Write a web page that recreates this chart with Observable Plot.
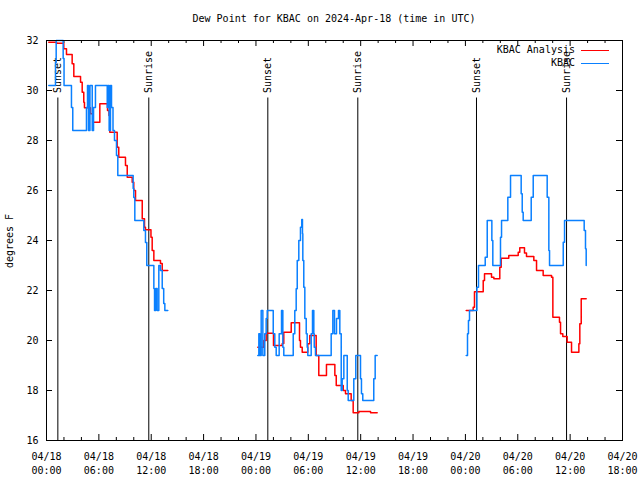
<!DOCTYPE html>
<html>
<head>
<meta charset="utf-8">
<script src="https://cdn.jsdelivr.net/npm/d3@7"></script>
<script src="https://cdn.jsdelivr.net/npm/@observablehq/plot@0.6"></script>
<style>
  body { margin: 0; background: #fff; }
  #wrap { position: relative; width: 640px; height: 480px; font-family: "DejaVu Sans Mono", monospace; font-size: 10px; color: #000; background: #fff; }
  #title { height: 30px; box-sizing: border-box; padding-top: 13px; padding-left: 28px; text-align: center; line-height: 12px; white-space: pre; }
  .abs { position: absolute; line-height: 12px; white-space: pre; }
  .swatch { position: absolute; height: 1.5px; width: 28px; }
</style>
</head>
<body>
<div id="wrap">
  <div id="title">Dew Point for KBAC on 2024-Apr-18 (time in UTC)</div>
  <div id="chart"></div>
  <div class="abs" id="ylab" style="left:-30px; top:235px; width:80px; text-align:center; transform:rotate(-90deg);">degrees F</div>
  <div class="abs" id="leg1" style="right:65px; top:44px; text-align:right;"></div>
  <div class="swatch" id="sw1" style="left:581px; top:49.5px;"></div>
  <div class="abs" id="leg2" style="right:65px; top:57px; text-align:right;"></div>
  <div class="swatch" id="sw2" style="left:581px; top:62.5px;"></div>
</div>
<script>
// Hours after 2024-04-18 00:00 UTC, dew point in °F
const seriesNames = ["KBAC Analysis", "KBAC"];
const seriesColors = ["#ff0000", "#0a80ff"];

const analysisSeg1 = [[0.26,31.93],[1.15,31.89],[1.98,31.67],[2.29,31.44],[2.94,31.07],[3.13,30.56],[3.90,30.33],[4.09,29.93],[4.27,29.53],[4.35,29.31],[5.04,29.07],[5.35,28.73],[6.11,29.47],[6.99,29.2],[7.16,29.0],[7.25,28.33],[8.10,27.73],[8.28,27.33],[9.05,27.0],[9.25,26.53],[9.82,26.33],[10.0,26.0],[10.2,25.6],[10.97,24.87],[11.23,24.53],[11.34,24.43],[11.97,24.13],[12.11,23.6],[12.30,23.2],[13.06,23.08],[13.26,22.8],[13.90,22.8]];
const analysisSeg2 = [[24.21,19.73],[24.90,20.0],[25.17,20.29],[26.01,19.8],[27.01,19.88],[27.19,20.33],[28.04,20.71],[28.99,20.0],[29.10,19.73],[29.30,19.53],[29.94,19.87],[30.17,20.2],[30.90,19.4],[31.20,18.6],[32.08,19.04],[33.04,18.6],[33.20,18.2],[34.0,18.0],[34.26,17.87],[34.91,17.6],[35.14,17.11],[35.79,17.16],[37.13,17.11],[37.89,17.11]];
const analysisSeg3 = [[48.09,21.2],[48.89,21.33],[49.04,21.95],[50.04,22.4],[50.19,22.67],[50.99,22.53],[51.26,22.47],[51.94,22.93],[52.10,23.29],[52.97,23.4],[54.05,23.53],[54.23,23.71],[54.77,23.5],[55.0,23.36],[55.84,23.2],[56.15,22.8],[56.91,22.6],[57.87,22.53],[58.02,20.93],[58.78,20.73],[58.90,20.27],[59.16,20.16],[59.66,19.93],[60.16,19.53],[61.0,19.87],[61.11,20.67],[61.27,21.67],[61.84,21.67]];

const obsSeg1 = [[0.26,30.2],[1.03,31.12],[1.11,32.0],[1.91,31.28],[2.01,30.2],[2.86,29.32],[3.01,28.4],[4.58,29.32],[4.70,30.2],[4.81,28.4],[4.98,30.2],[5.24,28.4],[5.39,29.32],[5.61,30.2],[6.96,29.32],[7.05,30.2],[7.18,28.4],[7.33,30.2],[7.45,29.32],[7.62,28.4],[7.79,28.0],[8.02,27.4],[8.17,26.6],[9.93,26.08],[10.0,25.72],[10.12,24.8],[11.15,24.4],[11.34,23.92],[11.49,23.0],[12.30,22.08],[12.38,21.2],[12.52,22.08],[12.68,21.2],[12.87,23.0],[13.06,22.8],[13.26,22.08],[13.43,21.48],[13.56,21.2],[13.90,21.2]];
const obsSeg2 = [[24.21,19.4],[24.33,20.27],[24.44,19.4],[24.60,21.2],[24.79,19.4],[25.01,20.27],[25.17,20.88],[25.29,21.2],[25.98,20.27],[26.16,19.73],[26.32,19.4],[26.66,20.27],[26.93,21.2],[27.08,19.73],[27.19,19.4],[28.27,20.27],[28.45,21.2],[28.61,22.07],[28.73,23.2],[28.91,24.0],[29.10,24.53],[29.25,24.84],[29.33,24.27],[29.37,23.2],[29.48,22.13],[29.60,20.88],[29.76,20.27],[29.87,19.73],[29.94,19.4],[30.33,20.27],[30.48,21.2],[30.63,20.27],[30.68,19.73],[30.82,19.4],[32.62,20.27],[32.81,21.2],[33.0,20.27],[33.23,20.88],[33.46,21.2],[33.61,20.27],[33.77,18.0],[33.88,18.47],[34.07,19.4],[34.46,18.0],[34.57,17.6],[35.21,18.47],[35.44,19.4],[35.98,18.47],[36.09,17.87],[36.24,17.6],[37.50,18.47],[37.66,19.4],[37.89,19.4]];
const obsSeg3 = [[48.09,19.4],[48.24,20.27],[48.35,20.8],[48.47,21.2],[49.32,22.13],[49.50,23.0],[50.27,23.33],[50.5,24.8],[51.03,24.0],[51.14,23.0],[52.02,24.13],[52.14,24.8],[52.86,25.73],[53.17,26.6],[54.39,25.87],[54.51,25.13],[54.62,24.8],[55.54,25.73],[55.77,26.6],[57.37,25.73],[57.56,23.6],[57.64,23.0],[59.21,23.93],[59.36,24.8],[61.61,24.4],[61.76,23.67],[61.84,23.0]];

const sunHours = [1.3, 11.72, 25.36, 35.67, 49.27, 59.59];
const sunLabels = ["Sunset", "Sunrise", "Sunset", "Sunrise", "Sunset", "Sunrise"];

const xDomainHours = [0, 66];
const majorTickHours = [0, 6, 12, 18, 24, 30, 36, 42, 48, 54, 60, 66];
const minorTickHours = [2, 4, 8, 10, 14, 16, 20, 22, 26, 28, 32, 34, 38, 40, 44, 46, 50, 52, 56, 58, 62, 64];
const yTicks = [16, 18, 20, 22, 24, 26, 28, 30, 32];

const base = Date.UTC(2024, 3, 18);
const t = h => new Date(base + h * 3600000);
const fmt = d3.utcFormat("%m/%d\n%H:%M");

const sunEvents = sunHours.map((h, i) => ({date: t(h), label: sunLabels[i]}));
const toPts = seg => seg.map(([h, v]) => ({date: t(h), v}));

const lineOpts = (color) => ({x: "date", y: "v", curve: "step-after", stroke: color, strokeWidth: 1.5});

const chart = Plot.plot({
  width: 640,
  height: 450,
  marginTop: 10,
  marginBottom: 40,
  marginLeft: 46,
  marginRight: 18,
  style: {fontFamily: "DejaVu Sans Mono, monospace", fontSize: "10px", background: "white", color: "black", overflow: "visible"},
  x: {type: "utc", domain: xDomainHours.map(t), axis: null},
  y: {domain: [16, 32]},
  marks: [
    Plot.axisY(yTicks, {tickSize: 0, tickPadding: 8, label: null, fontSize: 10}),
    Plot.text(majorTickHours.map(t), {x: d => d, frameAnchor: "bottom", dy: 9.4, lineAnchor: "top", text: d => fmt(d), lineHeight: 1.4, fontSize: 10}),
    Plot.ruleX(majorTickHours.map(t), {insetTop: 394, stroke: "black"}),
    Plot.ruleX(majorTickHours.map(t), {insetBottom: 394, stroke: "black"}),
    Plot.ruleX(minorTickHours.map(t), {insetTop: 397, stroke: "black"}),
    Plot.ruleX(minorTickHours.map(t), {insetBottom: 397, stroke: "black"}),
    Plot.ruleY(yTicks, {insetRight: 570, stroke: "black"}),
    Plot.ruleY(yTicks, {insetLeft: 570, stroke: "black"}),
    Plot.ruleX(sunEvents, {x: "date", y1: 16, y2: 29.7, stroke: "black", strokeWidth: 1}),
    Plot.text(sunEvents, {x: "date", y: 29.9, text: "label", rotate: -90, textAnchor: "start", fontSize: 10, fill: "black"}),
    Plot.line(toPts(analysisSeg1), lineOpts(seriesColors[0])),
    Plot.line(toPts(analysisSeg2), lineOpts(seriesColors[0])),
    Plot.line(toPts(analysisSeg3), lineOpts(seriesColors[0])),
    Plot.line(toPts(obsSeg1), lineOpts(seriesColors[1])),
    Plot.line(toPts(obsSeg2), lineOpts(seriesColors[1])),
    Plot.line(toPts(obsSeg3), lineOpts(seriesColors[1])),
    Plot.frame({stroke: "black"})
  ]
});
document.getElementById("chart").appendChild(chart);

document.getElementById("leg1").textContent = seriesNames[0];
document.getElementById("leg2").textContent = seriesNames[1];
document.getElementById("sw1").style.background = seriesColors[0];
document.getElementById("sw2").style.background = seriesColors[1];
</script>
</body>
</html>
